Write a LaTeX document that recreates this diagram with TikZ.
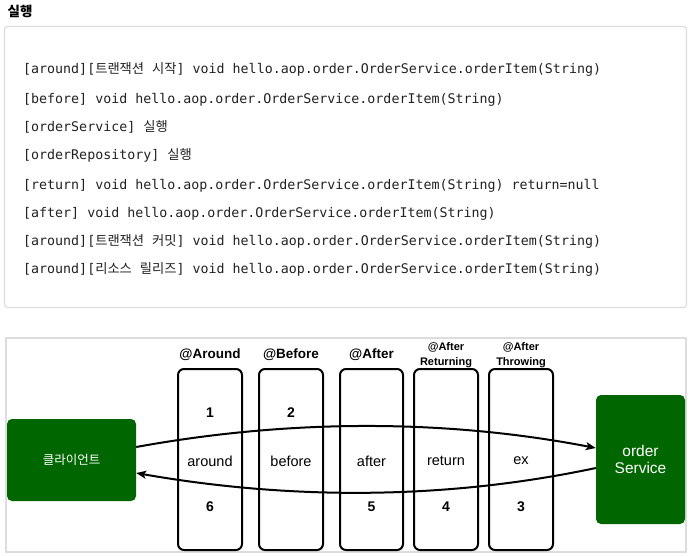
\documentclass[tikz,border=0pt]{standalone}
\usepackage{fontspec}
\setmainfont{Liberation Sans}
\newfontfamily\codefont{DejaVu Sans Mono}
\newfontfamily\kr{Noto Sans CJK KR}
\usetikzlibrary{arrows.meta}
\definecolor{boxgreen}{RGB}{0,102,0}
\definecolor{framegray}{RGB}{221,221,221}
\definecolor{codegray}{RGB}{34,34,34}
\definecolor{codebg}{RGB}{255,255,255}
\begin{document}
\begin{tikzpicture}[x=1pt,y=-1pt,
  codeline/.style={anchor=base west, inner sep=0pt, text=codegray,
    font=\codefont\fontsize{13.3}{16}\selectfont},
  advice/.style={draw=black, line width=2pt, rounded corners=6pt, fill=white},
  head/.style={inner sep=0pt, align=center, font=\bfseries\fontsize{13.5}{16}\selectfont},
  smallhead/.style={inner sep=0pt, align=center, font=\bfseries\fontsize{11}{15}\selectfont},
  num/.style={inner sep=0pt, font=\bfseries\fontsize{14}{16}\selectfont},
  lbl/.style={inner sep=0pt, font=\fontsize{14.5}{16}\selectfont},
  greenbox/.style={fill=boxgreen, rounded corners=5pt, text=white, align=center},
  flow/.style={line width=2pt, -{Stealth[length=10pt,width=8pt,inset=2.5pt]}}
]
\useasboundingbox (0,0) rectangle (691,555);
\fill[white] (0,0) rectangle (691,555);

% title
\node[inner sep=0pt, font=\kr\bfseries\fontsize{13.5}{16}\selectfont] (title) at (20,11) {실행};

% code box
\draw[framegray, line width=1.2pt, fill=codebg, rounded corners=3pt] (4.5,26.5) rectangle (686.5,307.5);
\node[codeline] (l1) at (23,73.5) {[around][{\kr 트랜잭션} {\kr 시작}] void hello.aop.order.OrderService.orderItem(String)};
\node[codeline] (l2) at (23,103.5) {[before] void hello.aop.order.OrderService.orderItem(String)};
\node[codeline] (l3) at (23,131.5) {[orderService] {\kr 실행}};
\node[codeline] (l4) at (23,159.5) {[orderRepository] {\kr 실행}};
\node[codeline] (l5) at (23,189.5) {[return] void hello.aop.order.OrderService.orderItem(String) return=null};
\node[codeline] (l6) at (23,217.5) {[after] void hello.aop.order.OrderService.orderItem(String)};
\node[codeline] (l7) at (23,245.5) {[around][{\kr 트랜잭션} {\kr 커밋}] void hello.aop.order.OrderService.orderItem(String)};
\node[codeline] (l8) at (23,273.5) {[around][{\kr 리소스} {\kr 릴리즈}] void hello.aop.order.OrderService.orderItem(String)};

% diagram frame
\draw[framegray, line width=2pt] (6,338) rectangle (686,552);

% advice boxes
\draw[advice] (178,369) rectangle (242,550);
\draw[advice] (259,369) rectangle (323,550);
\draw[advice] (340,369) rectangle (403,550);
\draw[advice] (414,369) rectangle (478,550);
\draw[advice] (489,369) rectangle (553,550);

% headers
\node[head] (hAround) at (210,355) {@Around};
\node[head] (hBefore) at (291,355) {@Before};
\node[head] (hAfter) at (371.5,355) {@After};
\node[smallhead] (hRet) at (446,355) {@After\\Returning};
\node[smallhead] (hThr) at (521,355) {@After\\Throwing};

% contents
\node[num] (n1) at (210,413) {1};
\node[num] (n2) at (291,413) {2};
\node[lbl] (tAround) at (210,461) {around};
\node[lbl] (tBefore) at (291,461) {before};
\node[lbl] (tAfter) at (371.5,461) {after};
\node[lbl] (tRet) at (446,461) {return};
\node[lbl] (tEx) at (521,461) {ex};
\node[num] (n6) at (210,507) {6};
\node[num] (n5) at (371.5,507) {5};
\node[num] (n4) at (446,507) {4};
\node[num] (n3) at (521,507) {3};

% client and service
\node[greenbox, minimum width=129pt, minimum height=82pt, font=\kr\fontsize{12.5}{15}\selectfont] (client) at (71.5,460) {클라이언트};
\node[greenbox, minimum width=89pt, minimum height=129pt, font=\fontsize{15.5}{17.6}\selectfont] (svc) at (640.5,459.5) {order\\Service};

% flows
\draw[flow] ([yshift=13pt]client.east) .. controls (290,419) and (445,419) .. ([yshift=11.5pt]svc.west);
\draw[flow] ([yshift=-8.5pt]svc.west) .. controls (445,500) and (290,500) .. ([yshift=-13pt]client.east);
\end{tikzpicture}
\end{document}
